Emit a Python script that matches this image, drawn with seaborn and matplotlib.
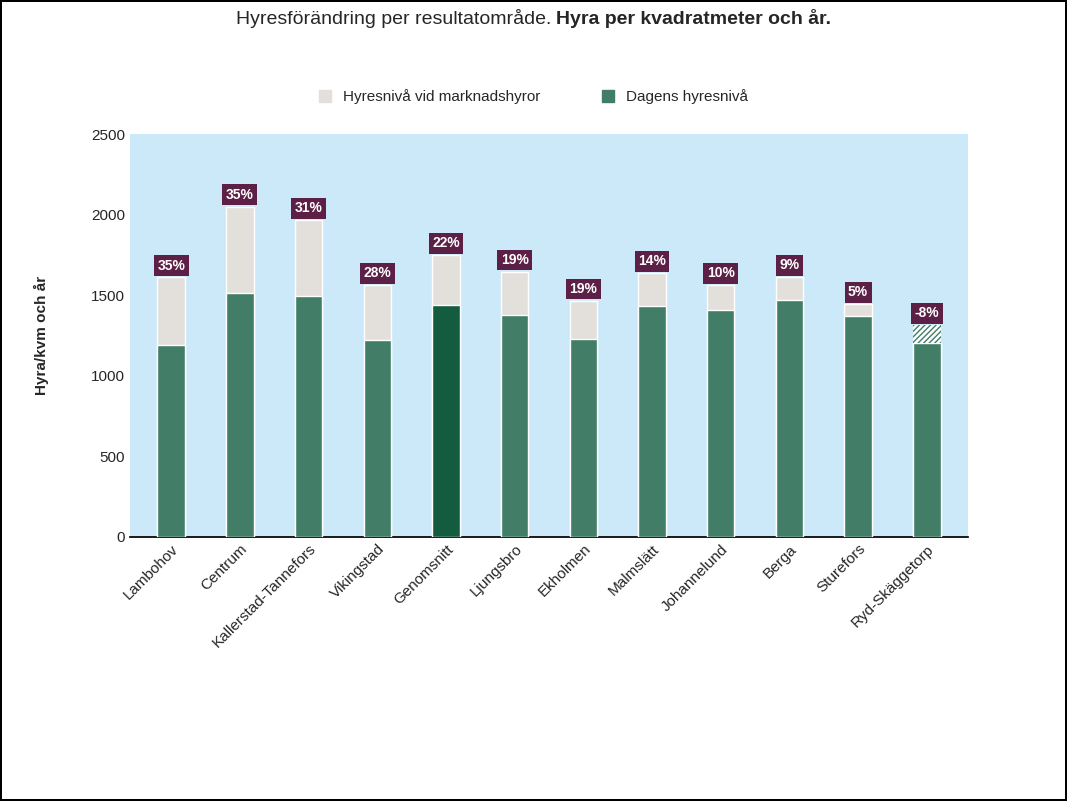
import matplotlib.pyplot as plt
import numpy as np
import pandas as pd
import seaborn as sns
from matplotlib.patches import Patch

areas = ["Lambohov", "Centrum", "Kallerstad-Tannefors", "Vikingstad", "Genomsnitt",
         "Ljungsbro", "Ekholmen", "Malmslätt", "Johannelund", "Berga", "Sturefors",
         "Ryd-Skäggetorp"]
current = [1191, 1514, 1495, 1222, 1439, 1377, 1228, 1433, 1408, 1470, 1371, 1315]
market = [1610, 2050, 1965, 1563, 1750, 1645, 1465, 1638, 1563, 1613, 1445, 1205]
change = ["35%", "35%", "31%", "28%", "22%", "19%", "19%", "14%", "10%", "9%", "5%", "-8%"]

GREEN = "#417d67"
DARK = "#135c40"
LIGHT = "#e3e0db"
PURPLE = "#5c1f45"

sns.set_theme(style="white")
plt.rcParams["font.family"] = ["Liberation Sans", "DejaVu Sans"]

df = pd.DataFrame({"area": areas, "current": current, "market": market})

fig = plt.figure(figsize=(10.67, 8.01), dpi=100)
fig.patch.set_edgecolor("black")
fig.patch.set_linewidth(1.5)
ax = fig.add_axes([130 / 1067, 1 - 537 / 801, 838 / 1067, 403 / 801])
ax.set_facecolor("#cce9fa")

x = np.arange(len(areas))
w = 0.4
lower = np.minimum(df["current"], df["market"])
# market level (light) behind current level
ax.bar(x, df["market"], width=w, color=LIGHT, zorder=2)
colors = [DARK if a == "Genomsnitt" else GREEN for a in areas]
ax.bar(x, lower, width=w, color=colors, zorder=3)
over = df["current"] - lower
ax.bar(x, over, bottom=lower, width=w, color="white", edgecolor=GREEN,
       hatch="//////", linewidth=0, zorder=3)

for i, lab in enumerate(change):
    top = max(current[i], market[i])
    ax.text(x[i], top + 30, lab, ha="center", va="bottom", color="white",
            fontsize=10, fontweight="bold", zorder=5,
            bbox=dict(boxstyle="square,pad=0.25", fc=PURPLE, ec="none"))

ax.set_xlim(-0.6, len(areas) - 0.4)
ax.set_ylim(0, 2500)
ax.set_yticks(range(0, 2501, 500))
ax.set_xticks(x)
ax.set_xticklabels(areas, rotation=45, ha="right", rotation_mode="anchor", fontsize=11)
ax.tick_params(axis="y", labelsize=11, length=0)
ax.tick_params(axis="x", length=0)
for s in ["top", "right", "left"]:
    ax.spines[s].set_visible(False)
ax.spines["bottom"].set_color("black")
ax.set_ylabel("Hyra/kvm och år", fontsize=11, fontweight="bold", labelpad=30)

handles = [Patch(color=LIGHT, label="Hyresnivå vid marknadshyror"),
           Patch(color=GREEN, label="Dagens hyresnivå")]
fig.legend(handles=handles, loc="center", bbox_to_anchor=(0.5, 1 - 97 / 801), ncol=2,
           frameon=False, fontsize=11, handlelength=0.8, handleheight=0.8,
           columnspacing=4)

ty = 1 - 18 / 801
t1 = fig.text(0.5, ty, "Hyresförändring per resultatområde. ", ha="left",
              va="center", fontsize=14)
t2 = fig.text(0.5, ty, "Hyra per kvadratmeter och år.", ha="left", va="center",
              fontsize=14, fontweight="bold")
fig.canvas.draw()
r = fig.canvas.get_renderer()
w1 = t1.get_window_extent(r).width / fig.bbox.width
w2 = t2.get_window_extent(r).width / fig.bbox.width
start = 0.5 - (w1 + w2) / 2
t1.set_x(start)
t2.set_x(start + w1)

fig.savefig("out.png", dpi=100, edgecolor=fig.get_edgecolor())
